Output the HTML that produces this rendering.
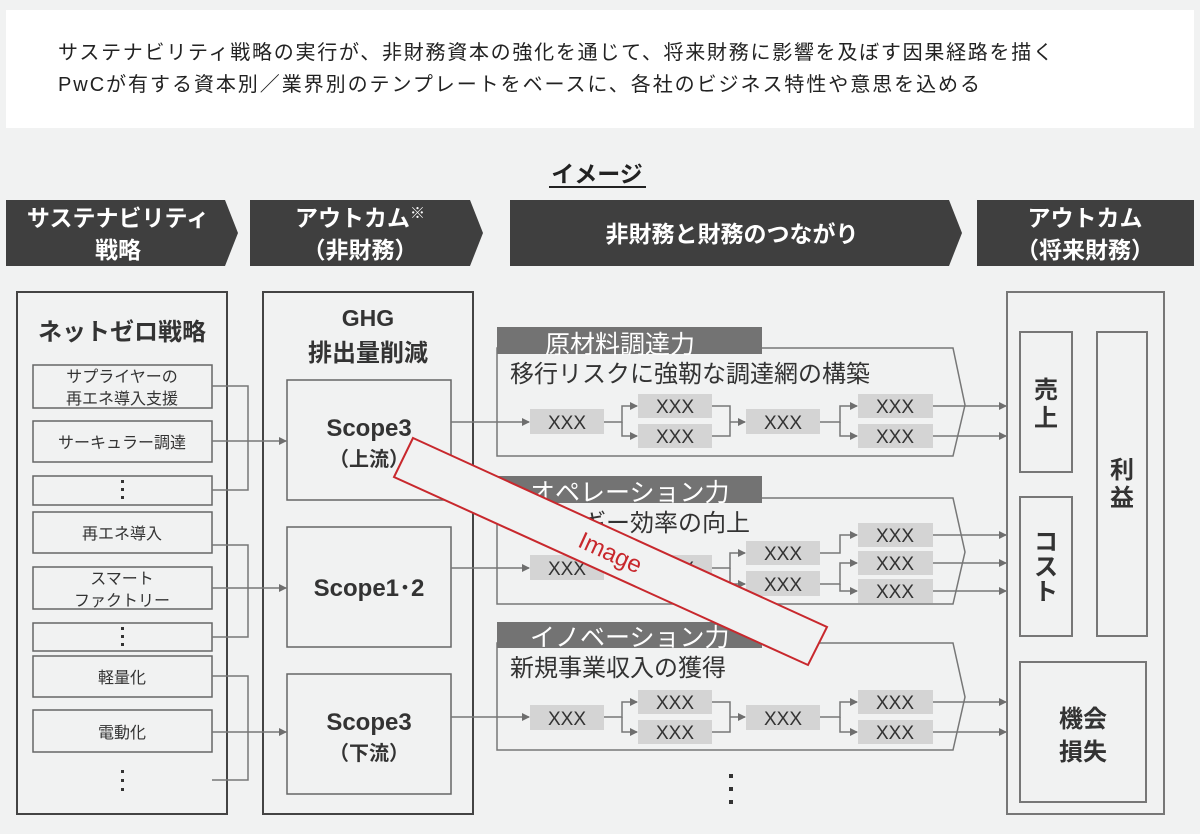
<!DOCTYPE html>
<html><head><meta charset="utf-8"><style>
body{margin:0;background:#f1f2f2;}
svg{display:block;font-family:"Liberation Sans","Noto Sans CJK JP",sans-serif;}
</style></head><body>
<svg width="1200" height="834" viewBox="0 0 1200 834" xmlns="http://www.w3.org/2000/svg">
<defs>
<marker id="a" markerWidth="8" markerHeight="8" refX="7" refY="4" orient="auto" markerUnits="userSpaceOnUse"><path d="M0,0 L8,4 L0,8z" fill="#6e6e6e"/></marker>
</defs>
<rect width="1200" height="834" fill="#f1f2f2"/>
<rect x="6" y="10" width="1188" height="118" fill="#fff"/>
<text x="58" y="59" font-size="20" fill="#222" textLength="995" lengthAdjust="spacing">サステナビリティ戦略の実行が、非財務資本の強化を通じて、将来財務に影響を及ぼす因果経路を描く</text>
<text x="58" y="91" font-size="20" fill="#222" textLength="922" lengthAdjust="spacing">PwCが有する資本別／業界別のテンプレートをベースに、各社のビジネス特性や意思を込める</text>
<text x="597" y="182" font-size="23" font-weight="bold" fill="#222" text-anchor="middle">イメージ</text>
<line x1="549" y1="187" x2="646" y2="187" stroke="#222" stroke-width="2"/>
<g fill="#3f3f3f">
<polygon points="6,200 225,200 238,233 225,266 6,266"/>
<polygon points="250,200 470,200 483,233 470,266 250,266"/>
<polygon points="510,200 949,200 962,233 949,266 510,266"/>
<rect x="977" y="200" width="217" height="66"/>
</g>
<g fill="#fff" font-size="23" font-weight="bold" text-anchor="middle">
<text x="118" y="226">サステナビリティ</text><text x="118" y="258">戦略</text>
<text x="360" y="226">アウトカム<tspan font-size="15" dy="-8">※</tspan></text><text x="360" y="258">（非財務）</text>
<text x="732" y="242">非財務と財務のつながり</text>
<text x="1085" y="226">アウトカム</text><text x="1085" y="258">（将来財務）</text>
</g>
<g fill="none" stroke="#444" stroke-width="2">
<rect x="17" y="292" width="210" height="522"/>
<rect x="263" y="292" width="210" height="522"/>
</g>
<text x="122" y="340" font-size="24" font-weight="bold" fill="#333" text-anchor="middle">ネットゼロ戦略</text>
<g fill="none" stroke="#666" stroke-width="1.5">
<rect x="33" y="365" width="179" height="43"/>
<rect x="33" y="421" width="179" height="41"/>
<rect x="33" y="476" width="179" height="29"/>
<rect x="33" y="512" width="179" height="41"/>
<rect x="33" y="567" width="179" height="42"/>
<rect x="33" y="623" width="179" height="28"/>
<rect x="33" y="656" width="179" height="41"/>
<rect x="33" y="710" width="179" height="42"/>
</g>
<g font-size="16" fill="#333" text-anchor="middle">
<text x="122" y="382">サプライヤーの</text><text x="122" y="404">再エネ導入支援</text>
<text x="122" y="448">サーキュラー調達</text>
<text x="122" y="539">再エネ導入</text>
<text x="122" y="584">スマート</text><text x="122" y="606">ファクトリー</text>
<text x="122" y="683">軽量化</text>
<text x="122" y="738">電動化</text>
</g>
<g fill="#333">
<rect x="121" y="480" width="3" height="3"/><rect x="121" y="488" width="3" height="3"/><rect x="121" y="496" width="3" height="3"/>
<rect x="121" y="627" width="3" height="3"/><rect x="121" y="635" width="3" height="3"/><rect x="121" y="643" width="3" height="3"/>
<rect x="121" y="770" width="3" height="3"/><rect x="121" y="779" width="3" height="3"/><rect x="121" y="788" width="3" height="3"/>
</g>
<g fill="none" stroke="#777" stroke-width="1.5">
<path d="M212,386 H248 V490 H212"/>
<path d="M212,545 H248 V637 H212"/>
<path d="M212,676 H248 V780 H212"/>
<line x1="212" y1="441" x2="286" y2="441" marker-end="url(#a)"/>
<line x1="212" y1="588" x2="286" y2="588" marker-end="url(#a)"/>
<line x1="212" y1="732" x2="286" y2="732" marker-end="url(#a)"/>
</g>
<text x="368" y="326" font-size="23" font-weight="bold" fill="#333" text-anchor="middle">GHG</text>
<text x="368" y="361" font-size="24" font-weight="bold" fill="#333" text-anchor="middle">排出量削減</text>
<g fill="none" stroke="#666" stroke-width="1.5">
<rect x="287" y="380" width="164" height="120"/>
<rect x="287" y="527" width="164" height="120"/>
<rect x="287" y="674" width="164" height="120"/>
</g>
<g fill="#333" font-weight="bold" text-anchor="middle">
<text x="369" y="436" font-size="24">Scope3</text><text x="369" y="466" font-size="20">（上流）</text>
<text x="369" y="596" font-size="24">Scope1･2</text>
<text x="369" y="730" font-size="24">Scope3</text><text x="369" y="760" font-size="20">（下流）</text>
</g>
<g fill="none" stroke="#777" stroke-width="1.5">
<polygon points="497,348 953,348 965,405 953,456 497,456"/>
<polygon points="497,498 953,498 965,552 953,604 497,604"/>
<polygon points="497,643 953,643 965,697 953,750 497,750"/>
</g>
<g fill="#737373">
<rect x="497" y="327" width="265" height="27"/>
<rect x="497" y="476" width="265" height="27"/>
<rect x="497" y="622" width="265" height="26"/>
</g>
<g fill="#fff" font-size="25">
<text x="545" y="353">原材料調達力</text>
<text x="530" y="501">オペレーション力</text>
<text x="530" y="646">イノベーション力</text>
</g>
<g fill="#333" font-size="24">
<text x="510" y="382">移行リスクに強靭な調達網の構築</text>
<text x="510" y="531">エネルギー効率の向上</text>
<text x="510" y="676">新規事業収入の獲得</text>
</g>
<g fill="none" stroke="#777" stroke-width="1.5">
<line x1="451" y1="422" x2="529" y2="422" marker-end="url(#a)"/>
<path d="M604,422 H622 V406 H637" marker-end="url(#a)"/><path d="M622,422 V436 H637" marker-end="url(#a)"/>
<path d="M712,406 H730 V436 H712 M730,422 H745" marker-end="url(#a)"/>
<path d="M820,422 H840 V406 H857" marker-end="url(#a)"/><path d="M840,422 V436 H857" marker-end="url(#a)"/>
<line x1="933" y1="406" x2="1006" y2="406" marker-end="url(#a)"/>
<line x1="933" y1="436" x2="1006" y2="436" marker-end="url(#a)"/>
<line x1="451" y1="568" x2="529" y2="568" marker-end="url(#a)"/>
<path d="M712,568 H730 V553 H745" marker-end="url(#a)"/><path d="M730,568 V584 H745" marker-end="url(#a)"/>
<path d="M820,553 H840 V535 H857" marker-end="url(#a)"/>
<path d="M820,584 H840 V563 H857" marker-end="url(#a)"/><path d="M840,584 V591 H857" marker-end="url(#a)"/>
<line x1="933" y1="535" x2="1006" y2="535" marker-end="url(#a)"/>
<line x1="933" y1="563" x2="1006" y2="563" marker-end="url(#a)"/>
<line x1="933" y1="591" x2="1006" y2="591" marker-end="url(#a)"/>
<line x1="451" y1="717" x2="529" y2="717" marker-end="url(#a)"/>
<path d="M604,717 H622 V702 H637" marker-end="url(#a)"/><path d="M622,717 V732 H637" marker-end="url(#a)"/>
<path d="M712,702 H730 V732 H712 M730,717 H745" marker-end="url(#a)"/>
<path d="M820,717 H840 V702 H857" marker-end="url(#a)"/><path d="M840,717 V732 H857" marker-end="url(#a)"/>
<line x1="933" y1="702" x2="1006" y2="702" marker-end="url(#a)"/>
<line x1="933" y1="732" x2="1006" y2="732" marker-end="url(#a)"/>
</g>
<g fill="#d4d4d4">
<rect x="530" y="409" width="74" height="25"/><rect x="638" y="394" width="74" height="24"/><rect x="638" y="424" width="74" height="24"/><rect x="746" y="409" width="74" height="25"/><rect x="858" y="394" width="75" height="24"/><rect x="858" y="424" width="75" height="24"/>
<rect x="530" y="555" width="74" height="25"/><rect x="638" y="555" width="74" height="25"/><rect x="746" y="541" width="74" height="24"/><rect x="746" y="571" width="74" height="25"/><rect x="858" y="523" width="75" height="24"/><rect x="858" y="551" width="75" height="24"/><rect x="858" y="579" width="75" height="24"/>
<rect x="530" y="705" width="74" height="25"/><rect x="638" y="690" width="74" height="24"/><rect x="638" y="720" width="74" height="24"/><rect x="746" y="705" width="74" height="25"/><rect x="858" y="690" width="75" height="24"/><rect x="858" y="720" width="75" height="24"/>
</g>
<g fill="#333" font-size="19" text-anchor="middle">
<text x="567" y="429">XXX</text><text x="675" y="413">XXX</text><text x="675" y="443">XXX</text><text x="783" y="429">XXX</text><text x="895" y="413">XXX</text><text x="895" y="443">XXX</text>
<text x="567" y="575">XXX</text><text x="675" y="575">XXX</text><text x="783" y="560">XXX</text><text x="783" y="591">XXX</text><text x="895" y="542">XXX</text><text x="895" y="570">XXX</text><text x="895" y="598">XXX</text>
<text x="567" y="725">XXX</text><text x="675" y="709">XXX</text><text x="675" y="739">XXX</text><text x="783" y="725">XXX</text><text x="895" y="709">XXX</text><text x="895" y="739">XXX</text>
</g>
<g fill="#333"><rect x="729" y="774" width="4" height="4"/><rect x="729" y="787" width="4" height="4"/><rect x="729" y="800" width="4" height="4"/></g>
<g fill="none" stroke="#777" stroke-width="2">
<rect x="1007" y="292" width="157" height="522"/>
<rect x="1020" y="332" width="52" height="140"/>
<rect x="1020" y="497" width="52" height="139"/>
<rect x="1097" y="332" width="50" height="304"/>
<rect x="1020" y="662" width="126" height="140"/>
</g>
<g fill="#333" font-size="24" font-weight="bold" text-anchor="middle">
<text x="1046" y="398">売</text><text x="1046" y="426">上</text>
<text x="1046" y="550">コ</text><text x="1046" y="575">ス</text><text x="1046" y="600">ト</text>
<text x="1122" y="478">利</text><text x="1122" y="506">益</text>
<text x="1083" y="727">機会</text><text x="1083" y="760">損失</text>
</g>
<polygon points="413,438 827,627 808,665 394,477" fill="#f1f2f2" stroke="#c8282d" stroke-width="2"/>
<text x="0" y="0" font-size="24" fill="#c8282d" text-anchor="middle" transform="translate(607,560) rotate(24.5)">Image</text>
</svg>
</body></html>
